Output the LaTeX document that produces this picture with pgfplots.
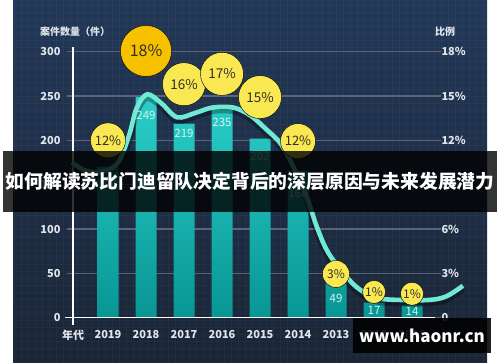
\documentclass[border=0pt]{standalone}
\usepackage{pgfplots}
\pgfplotsset{compat=1.18}
\usepackage{fontspec}
\setmainfont{Noto Sans CJK SC}
\definecolor{bgtop}{RGB}{34,56,88}
\definecolor{bgbot}{RGB}{26,37,54}
\definecolor{gridc}{RGB}{92,100,118}
\definecolor{bartop}{RGB}{42,206,200}
\definecolor{barbot}{RGB}{8,150,148}
\definecolor{linec}{RGB}{112,234,212}
\definecolor{gold}{RGB}{246,194,0}
\definecolor{yel}{RGB}{249,232,82}
\definecolor{txt}{RGB}{226,230,236}
\definecolor{pct}{RGB}{50,45,35}
\definecolor{barlab}{RGB}{214,244,240}
\begin{document}
\begin{tikzpicture}
\fill[white] (0pt,0pt) rectangle (500pt,362pt);
\shade[top color=bgtop,bottom color=bgbot] (13pt,0pt) rectangle (487pt,362pt);
\begin{scope}
\clip (13pt,0pt) rectangle (487pt,362pt);
\draw[white,opacity=0.035,step=7pt] (13pt,0pt) grid (487pt,362pt);
\end{scope}
\node[text=txt,font=\bfseries\fontsize{10}{12}\selectfont] at (75pt,330pt) {案件数量（件）};
\node[text=txt,font=\bfseries\fontsize{10}{12}\selectfont] at (445pt,330pt) {比例};
% left axis with bars and line
\begin{axis}[
  at={(73pt,44.3pt)}, anchor=south west, scale only axis,
  width=362pt, height=266pt,
  xmin=-0.921, xmax=8.605, ymin=0, ymax=300,
  clip=false,
  axis line style={draw=none},
  /pgf/number format/assume math mode=true,
  ytick={0,50,...,300}, yticklabels={0,50,100,150,200,250,300},
  ymajorgrids, grid style={gridc,line width=1.2pt},
  tick align=outside, major tick length=6pt,
  ytick style={gridc,line width=1.2pt},
  xtick={-0.921,0,1,2,3,4,5,6,7,8},
  xticklabels={年代,2019,2018,2017,2016,2015,2014,2013,2012,2011},
  xtick style={draw=none},
  ticklabel style={text=txt,font=\bfseries\fontsize{11}{13}\selectfont},
  xticklabel style={yshift=-3pt},
  yticklabel shift=3pt,
]
\addplot[ybar, bar width=21pt, draw=none, top color=bartop, bottom color=barbot]
 coordinates {(0,170) (1,249) (2,219) (3,235) (4,202) (5,166) (6,49) (7,17) (8,14)};
\addplot[draw=none, mark=none, nodes near coords, point meta=explicit symbolic,
  every node near coord/.append style={anchor=center,text=barlab,font=\fontsize{11.5}{13}\selectfont}]
 table[meta=lab] {
x y lab
0 150 170
1 228 249
2 208 219
3 220 235
4 182 202
5 140 166
6 22 49
7 8.7 17
8 7.5 14
};
\draw[white,line width=1.3pt] (axis cs:-0.921,-8) -- (axis cs:-0.921,305);
\draw[white,line width=1.3pt] (axis cs:-1.13,0) -- (axis cs:8.605,0);
\addplot[smooth, tension=0.55, black, opacity=0.3, line width=7pt, yshift=-3pt]
 coordinates {(-0.95,175) (-0.6,166) (-0.2,164) (0.25,174) (0.55,205) (0.75,236) (1.03,252) (1.4,242) (1.82,226) (2.3,231) (2.75,237) (3.3,237) (3.75,228) (4.15,213) (4.55,196) (4.9,168) (5.25,134) (5.5,102) (5.8,73) (6.3,45) (6.65,31) (7.1,22) (7.7,20) (8.45,20) (8.9,24) (9.34,36)};
\addplot[smooth, tension=0.55, linec, line width=4.6pt]
 coordinates {(-0.95,175) (-0.6,166) (-0.2,164) (0.25,174) (0.55,205) (0.75,236) (1.03,252) (1.4,242) (1.82,226) (2.3,231) (2.75,237) (3.3,237) (3.75,228) (4.15,213) (4.55,196) (4.9,168) (5.25,134) (5.5,102) (5.8,73) (6.3,45) (6.65,31) (7.1,22) (7.7,20) (8.45,20) (8.9,24) (9.34,36)};
\end{axis}
% right axis with percentage circles
\begin{axis}[
  at={(73pt,44.3pt)}, anchor=south west, scale only axis,
  width=362pt, height=266pt,
  xmin=-0.921, xmax=8.605, ymin=0, ymax=18,
  clip=false,
  axis line style={draw=none},
  /pgf/number format/assume math mode=true,
  xtick=\empty,
  ytick={0,3,...,18}, yticklabels={0,3\%,6\%,9\%,12\%,15\%,18\%},
  yticklabel pos=right, ytick style={draw=none}, major tick length=0pt,
  yticklabel shift=3pt,
  ticklabel style={text=txt,font=\bfseries\fontsize{11}{13}\selectfont},
  pc/.style={only marks, mark=*, nodes near coords, point meta=explicit symbolic,
    every node near coord/.append style={anchor=center,text=pct}},
]
\addplot[pc, mark size=25.5pt, mark options={fill=gold,draw=none},
  every node near coord/.append style={font=\fontsize{16}{18}\selectfont}]
 table[meta=lab] {
x y lab
1 18.05 18\%
};
\addplot[pc, mark size=21.5pt, mark options={fill=yel,draw=none},
  every node near coord/.append style={font=\fontsize{13.5}{15}\selectfont}]
 table[meta=lab] {
x y lab
2 15.8 16\%
3 16.5 17\%
4 14.93 15\%
};
\addplot[pc, mark size=17.5pt, mark options={fill=yel,draw=none},
  every node near coord/.append style={font=\fontsize{13}{15}\selectfont}]
 table[meta=lab] {
x y lab
0 12.0 12\%
5 11.95 12\%
};
\addplot[pc, mark size=13.5pt, mark options={fill=yel,draw=none},
  every node near coord/.append style={font=\fontsize{12}{14}\selectfont}]
 table[meta=lab] {
x y lab
6 2.96 3\%
};
\addplot[pc, mark size=11.5pt, mark options={fill=yel,draw=none},
  every node near coord/.append style={font=\fontsize{12}{14}\selectfont}]
 table[meta=lab] {
x y lab
7 1.74 1\%
8 1.62 1\%
};
\end{axis}
% banner
\fill[black,opacity=0.8] (3pt,150pt) rectangle (497pt,211pt);
\node[text=white,font=\bfseries\fontsize{18.8}{22}\selectfont,inner sep=0] at (250pt,180.5pt) {如何解读苏比门迪留队决定背后的深层原因与未来发展潜力};
% watermark
\fill[black,opacity=0.88] (353pt,9pt) rectangle (491pt,44pt);
\node[text=white,font=\bfseries\fontsize{17}{20}\selectfont] at (422pt,26pt) {www.haonr.cn};
\end{tikzpicture}
\end{document}
